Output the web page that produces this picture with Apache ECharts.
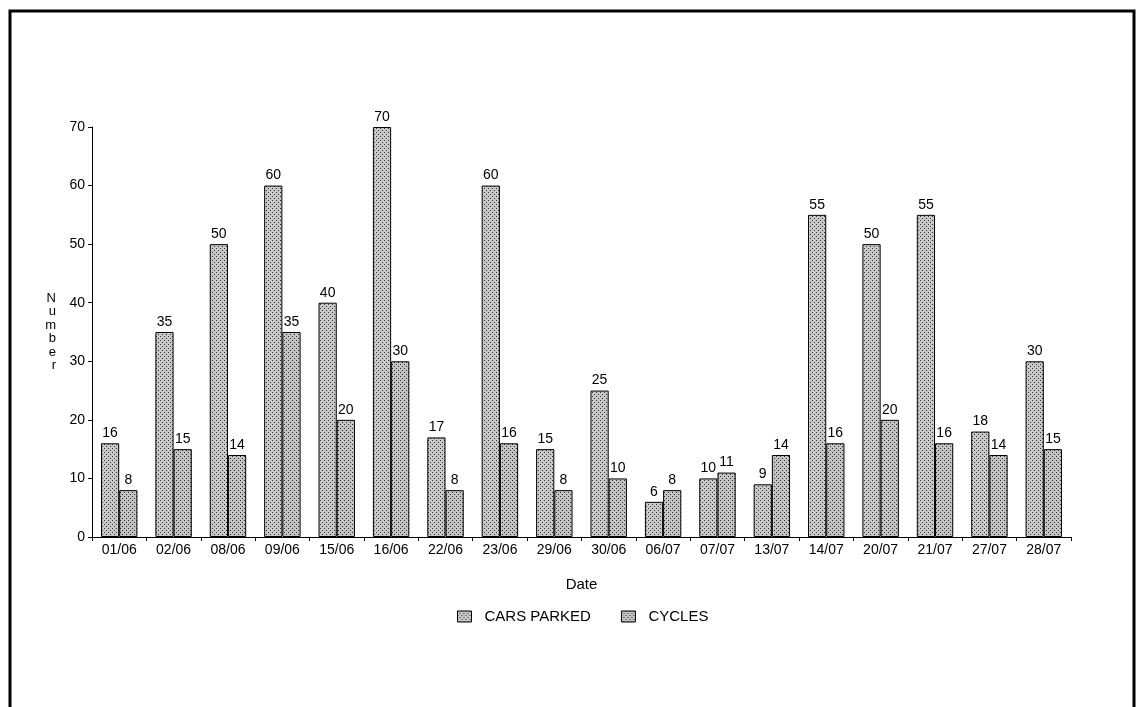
<!DOCTYPE html>
<html>
<head>
<meta charset="utf-8">
<script src="https://cdn.jsdelivr.net/npm/echarts@6/dist/echarts.min.js"></script>
<style>
html,body{margin:0;padding:0;background:#fff;}
#chart{width:1139px;height:707px;}
</style>
</head>
<body>
<div id="chart"></div>
<script>
const categories = ['01/06','02/06','08/06','09/06','15/06','16/06','22/06','23/06','29/06','30/06','06/07','07/07','13/07','14/07','20/07','21/07','27/07','28/07'];
const carsParked = [16,35,50,60,40,70,17,60,15,25,6,10,9,55,50,55,18,30];
const cycles = [8,15,14,35,20,30,8,16,8,10,8,11,14,16,20,16,14,15];
const yTicks = [0,10,20,30,40,50,60,70];

function makePattern(bg, dot, step){
  const c = document.createElement('canvas');
  c.width = step*2; c.height = step*2;
  const g = c.getContext('2d');
  g.fillStyle = bg; g.fillRect(0,0,c.width,c.height);
  g.fillStyle = dot;
  g.fillRect(0,0,1,1);
  g.fillRect(step,step,1,1);
  return c;
}
const pat1 = makePattern('#c8c8c8','#333',2);
const pat2 = makePattern('#c4c4c4','#2a2a2a',2);

const font = 'Liberation Sans, Arial, sans-serif';
const chart = echarts.init(document.getElementById('chart'));
chart.setOption({
  animation:false,
  textStyle:{fontFamily:font,color:'#000'},
  graphic:[{type:'rect',shape:{x:10,y:11,width:1124,height:720},style:{fill:'none',stroke:'#000',lineWidth:3},z:100}],
  grid:{left:92,right:68,top:127,bottom:170},
  legend:{
    data:['CARS PARKED','CYCLES'],
    top:604,left:452,icon:'rect',
    itemWidth:14,itemHeight:11,itemGap:30,
    textStyle:{fontSize:15,fontFamily:font,color:'#000',padding:[0,0,0,8]},
    itemStyle:{borderColor:'#000',borderWidth:1}
  },
  xAxis:{
    type:'category',data:categories,
    name:'Date',nameLocation:'middle',nameGap:40,
    nameTextStyle:{fontSize:15,fontFamily:font,color:'#000'},
    axisLine:{lineStyle:{color:'#000',width:1}},
    axisTick:{show:true,length:4,lineStyle:{color:'#000'}},
    axisLabel:{fontSize:14,fontFamily:font,color:'#000',margin:6}
  },
  yAxis:{
    type:'value',min:0,max:70,interval:10,
    name:'N\nu\nm\nb\ne\nr',nameLocation:'middle',nameRotate:0,nameGap:36,
    nameTextStyle:{fontSize:13,fontFamily:font,color:'#000',lineHeight:13.5},
    axisLine:{show:true,lineStyle:{color:'#000',width:1}},
    axisTick:{show:true,length:4,lineStyle:{color:'#000'}},
    splitLine:{show:false},
    axisLabel:{fontSize:14,fontFamily:font,color:'#000',margin:7,
      formatter:v=>yTicks.includes(v)?String(v):''}
  },
  series:[
    {name:'CARS PARKED',type:'bar',data:carsParked,barGap:'0%',barCategoryGap:'33%',
      itemStyle:{color:{image:pat1,repeat:'repeat'},borderColor:'#000',borderWidth:1},
      label:{show:true,position:'top',distance:3,fontSize:14,fontFamily:font,color:'#000'}},
    {name:'CYCLES',type:'bar',data:cycles,
      itemStyle:{color:{image:pat2,repeat:'repeat'},borderColor:'#000',borderWidth:1},
      label:{show:true,position:'top',distance:3,fontSize:14,fontFamily:font,color:'#000'}}
  ]
});
</script>
</body>
</html>
